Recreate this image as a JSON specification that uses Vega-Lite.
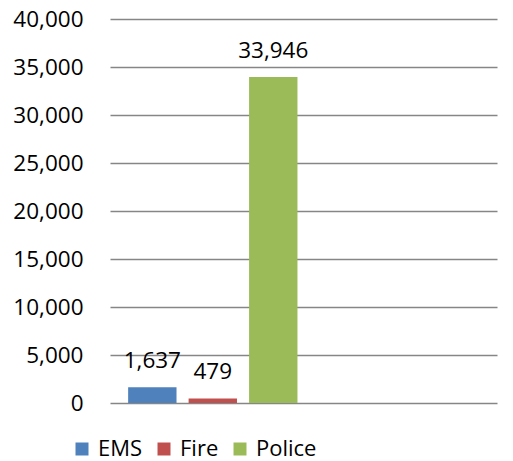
{
  "$schema": "https://vega.github.io/schema/vega-lite/v6.json",
  "autosize": "none",
  "width": 387,
  "height": 384,
  "padding": {"left": 110, "top": 19, "right": 16, "bottom": 58},
  "background": "white",
  "config": {
    "view": {"stroke": null},
    "font": "Open Sans"
  },
  "data": {
    "values": [
      {"service": "EMS", "calls": 1637},
      {"service": "Fire", "calls": 479},
      {"service": "Police", "calls": 33946}
    ]
  },
  "encoding": {
    "x": {
      "field": "service",
      "type": "nominal",
      "scale": {"domain": ["EMS", "Fire", "Police", "_a", "_b", "_c"], "paddingInner": 0.2, "paddingOuter": 0.3},
      "axis": null
    },
    "y": {
      "field": "calls",
      "type": "quantitative",
      "scale": {"domain": [0, 40000], "nice": false},
      "axis": {
        "values": [0, 5000, 10000, 15000, 20000, 25000, 30000, 35000, 40000],
        "format": ",d",
        "title": null,
        "domain": false,
        "ticks": false,
        "labelPadding": 27,
        "labelFontSize": 22.5,
        "labelColor": "#000000",
        "labelFont": "Open Sans",
        "gridColor": "#868686",
        "gridWidth": 1.3
      }
    }
  },
  "layer": [
    {
      "mark": {"type": "bar"},
      "encoding": {
        "color": {
          "field": "service",
          "type": "nominal",
          "scale": {"domain": ["EMS", "Fire", "Police"], "range": ["#4F81BD", "#C0504D", "#9BBB59"]},
          "legend": {
            "title": null,
            "orient": "none",
            "direction": "horizontal",
            "legendX": -39,
            "legendY": 419,
            "symbolType": "square",
            "symbolSize": 169,
            "symbolStrokeWidth": 0,
            "symbolOpacity": 1,
            "labelFontSize": 22,
            "labelFont": "Open Sans",
            "labelColor": "#000000",
            "labelOffset": 5,
            "labelLimit": 200,
            "columnPadding": 10
          }
        }
      }
    },
    {
      "mark": {"type": "text", "baseline": "alphabetic", "dy": -19, "fontSize": 22.5, "font": "Open Sans", "color": "#000000"},
      "encoding": {
        "text": {"field": "calls", "type": "quantitative", "format": ",d"}
      }
    }
  ]
}
